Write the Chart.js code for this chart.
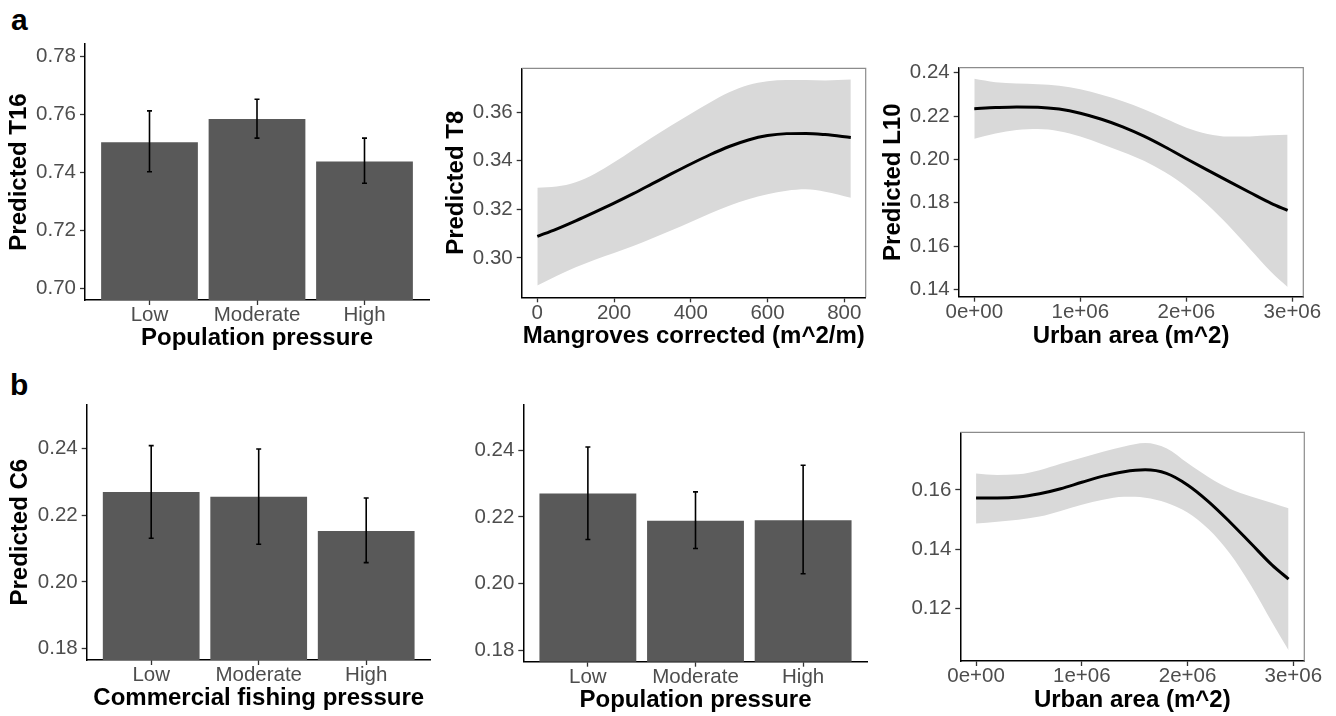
<!DOCTYPE html>
<html>
<head>
<meta charset="utf-8">
<script src="https://cdn.jsdelivr.net/npm/chart.js@4.4.0/dist/chart.umd.min.js"></script>
<style>
  html, body { margin: 0; padding: 0; background: #fff; }
  #wrap { position: relative; width: 1336px; height: 716px; overflow: hidden; }
  canvas { position: absolute; }
  .tag { position: absolute; font: bold 30px "Liberation Sans", Arial, sans-serif; line-height: 30px; color: #000; }
</style>
</head>
<body>
<div id="wrap">
  <div class="tag" style="left:11px;top:5px">a</div>
  <div class="tag" style="left:10px;top:370px">b</div>
  <canvas id="c1" width="440" height="358" style="left:0;top:0"></canvas>
  <canvas id="c2" width="440" height="358" style="left:440px;top:0"></canvas>
  <canvas id="c3" width="456" height="358" style="left:880px;top:0"></canvas>
  <canvas id="c4" width="440" height="358" style="left:0;top:358px"></canvas>
  <canvas id="c5" width="440" height="358" style="left:440px;top:358px"></canvas>
  <canvas id="c6" width="456" height="358" style="left:880px;top:358px"></canvas>
</div>
<script>
// categories
const pressureLevels = ['Low', 'Moderate', 'High'];

// a, left: T16 by population pressure
const t16Mean  = [0.7505, 0.7585, 0.7438];
const t16Lower = [0.7403, 0.7519, 0.7363];
const t16Upper = [0.7613, 0.7653, 0.7519];
const t16Ticks = [0.70, 0.72, 0.74, 0.76, 0.78];

// a, middle: T8 against mangroves
const mangroveX = [0, 50, 100, 150, 200, 250, 300, 350, 400, 450, 500, 550, 600, 650, 700, 750, 817];
const t8Fit   = [0.3089, 0.3119, 0.3153, 0.3189, 0.3226, 0.3265, 0.3306, 0.3347, 0.3387, 0.3425, 0.3459, 0.3486, 0.3504, 0.3512, 0.3513, 0.3508, 0.3496];
const t8Upper = [0.3289, 0.3294, 0.3312, 0.3347, 0.3394, 0.3446, 0.3497, 0.3546, 0.3594, 0.3640, 0.3682, 0.3712, 0.3728, 0.3733, 0.3733, 0.3731, 0.3735];
const t8Lower = [0.2887, 0.2926, 0.2962, 0.2993, 0.3020, 0.3049, 0.3081, 0.3114, 0.3148, 0.3183, 0.3215, 0.3242, 0.3262, 0.3277, 0.3283, 0.3273, 0.3248];
const mangroveTicks = [0, 200, 400, 600, 800];
const t8Ticks = [0.30, 0.32, 0.34, 0.36];

// a, right: L10 against urban area
const urbanX = [0, 0.2e6, 0.4e6, 0.6e6, 0.8e6, 1.0e6, 1.2e6, 1.4e6, 1.6e6, 1.8e6, 2.0e6, 2.2e6, 2.4e6, 2.6e6, 2.8e6, 2.955e6];
const l10Fit   = [0.2234, 0.2239, 0.2242, 0.2241, 0.2232, 0.2213, 0.2185, 0.2150, 0.2107, 0.2057, 0.2003, 0.1950, 0.1898, 0.1847, 0.1797, 0.1764];
const l10Upper = [0.2372, 0.2356, 0.2350, 0.2347, 0.2340, 0.2323, 0.2298, 0.2268, 0.2231, 0.2188, 0.2146, 0.2117, 0.2105, 0.2106, 0.2111, 0.2114];
const l10Lower = [0.2095, 0.2119, 0.2136, 0.2140, 0.2130, 0.2106, 0.2071, 0.2034, 0.1993, 0.1940, 0.1873, 0.1790, 0.1693, 0.1586, 0.1480, 0.1411];
const urbanTicks = [0, 1e6, 2e6, 3e6];
const urbanTickLabels = ['0e+00', '1e+06', '2e+06', '3e+06'];
const l10Ticks = [0.14, 0.16, 0.18, 0.20, 0.22, 0.24];

// b, left: C6 by commercial fishing pressure
const c6FishMean  = [0.2270, 0.2256, 0.2153];
const c6FishLower = [0.2131, 0.2113, 0.2058];
const c6FishUpper = [0.2409, 0.2399, 0.2252];

// b, middle: C6 by population pressure
const c6PopMean  = [0.2270, 0.2188, 0.2190];
const c6PopLower = [0.2132, 0.2105, 0.2029];
const c6PopUpper = [0.2410, 0.2275, 0.2355];
const c6Ticks = [0.18, 0.20, 0.22, 0.24];

// b, right: C6 against urban area
const c6UrbanFit   = [0.1573, 0.1573, 0.1576, 0.1587, 0.1604, 0.1626, 0.1647, 0.1662, 0.1668, 0.1656, 0.1617, 0.1560, 0.1492, 0.1419, 0.1346, 0.1299];
const c6UrbanUpper = [0.1656, 0.1651, 0.1653, 0.1667, 0.1689, 0.1709, 0.1729, 0.1747, 0.1759, 0.1741, 0.1691, 0.1643, 0.1604, 0.1578, 0.1556, 0.1538];
const c6UrbanLower = [0.1487, 0.1493, 0.1499, 0.1510, 0.1529, 0.1550, 0.1567, 0.1577, 0.1574, 0.1557, 0.1524, 0.1467, 0.1385, 0.1277, 0.1152, 0.1058];
const c6UrbanTicks = [0.12, 0.14, 0.16];

const FONT = '"Liberation Sans", Arial, Helvetica, sans-serif';
Chart.defaults.font.family = FONT;
Chart.defaults.animation = false;

const tickFont = { family: FONT, size: 20.5, lineHeight: 1 };
const titleFont = { family: FONT, size: 24, weight: 'bold', lineHeight: 1 };

function axis(o) {
    const labels = o.labels || o.ticks.map(v => o.isX ? String(v) : v.toFixed(2));
    return {
        type: 'linear',
        min: o.min,
        max: o.max,
        offset: false,
        afterBuildTicks: a => { a.ticks = o.ticks.map(v => ({ value: v })); },
        afterFit: a => { if (o.isX) a.height = o.size; else a.width = o.size; },
        ticks: {
            font: tickFont,
            color: '#4d4d4d',
            padding: o.isX ? 0.5 : 4,
            autoSkip: false,
            maxRotation: 0,
            callback: (v, i) => labels[i]
        },
        grid: {
            display: true, drawOnChartArea: false, drawTicks: true, offset: false,
            tickLength: 5, tickColor: '#333', tickWidth: 1.3
        },
        border: { display: true, color: '#000', width: 1.5 },
        title: {
            display: !!o.title,
            text: o.title,
            font: titleFont,
            color: '#000',
            padding: o.isX ? { top: 0, bottom: o.titlePad } : { top: o.titlePad, bottom: 0 }
        }
    };
}

function errorBars(lower, upper) {
    return {
        id: 'errorBars',
        afterDatasetsDraw(chart) {
            const { ctx, scales: { x, y } } = chart;
            ctx.save();
            ctx.strokeStyle = '#000';
            ctx.lineWidth = 1.6;
            lower.forEach((lo, i) => {
                const px = x.getPixelForValue(i + 1);
                const y1 = y.getPixelForValue(lo);
                const y2 = y.getPixelForValue(upper[i]);
                ctx.beginPath();
                ctx.moveTo(px, y1); ctx.lineTo(px, y2);
                ctx.moveTo(px - 2.5, y1); ctx.lineTo(px + 2.5, y1);
                ctx.moveTo(px - 2.5, y2); ctx.lineTo(px + 2.5, y2);
                ctx.stroke();
            });
            ctx.restore();
        }
    };
}

// grey top/right edges of the panel box
const frame = {
    id: 'frame',
    afterDraw(chart) {
        const { ctx, chartArea: a } = chart;
        ctx.save();
        ctx.strokeStyle = '#8c8c8c';
        ctx.lineWidth = 1.2;
        ctx.beginPath();
        ctx.moveTo(a.left, a.top);
        ctx.lineTo(a.right, a.top);
        ctx.lineTo(a.right, a.bottom);
        ctx.stroke();
        ctx.restore();
    }
};

function barPanel(id, p) {
    new Chart(document.getElementById(id), {
        type: 'bar',
        data: {
            datasets: [{
                data: p.mean.map((v, i) => ({ x: i + 1, y: v })),
                backgroundColor: '#595959',
                borderWidth: 0,
                barPercentage: 0.9,
                categoryPercentage: 1.0
            }]
        },
        options: {
            responsive: false,
            layout: { padding: { left: 0, top: p.top, right: p.right, bottom: 0 } },
            plugins: { legend: { display: false }, tooltip: { enabled: false } },
            scales: {
                x: axis({ isX: true, min: 0.4, max: 3.6, ticks: [1, 2, 3], labels: pressureLevels,
                          size: p.xSize, title: p.xTitle, titlePad: p.xPad }),
                y: axis({ min: p.yMin, max: p.yMax, ticks: p.yTicks,
                          size: p.ySize, title: p.yTitle, titlePad: p.yPad })
            }
        },
        plugins: [errorBars(p.lower, p.upper)]
    });
}

function curvePanel(id, p) {
    const pts = ys => p.x.map((x, i) => ({ x: x, y: ys[i] }));
    new Chart(document.getElementById(id), {
        type: 'line',
        data: {
            datasets: [
                { data: pts(p.fit), borderColor: '#000', borderWidth: 3, pointRadius: 0,
                  fill: false, cubicInterpolationMode: 'monotone' },
                { data: pts(p.upper), borderWidth: 0, pointRadius: 0, fill: '+1',
                  backgroundColor: '#d9d9d9', borderColor: 'rgba(0,0,0,0)', cubicInterpolationMode: 'monotone' },
                { data: pts(p.lower), borderWidth: 0, pointRadius: 0, fill: false,
                  borderColor: 'rgba(0,0,0,0)', cubicInterpolationMode: 'monotone' }
            ]
        },
        options: {
            responsive: false,
            layout: { padding: { left: 0, top: p.top, right: p.right, bottom: 0 } },
            plugins: { legend: { display: false }, tooltip: { enabled: false } },
            scales: {
                x: axis({ isX: true, min: p.xMin, max: p.xMax, ticks: p.xTicks, labels: p.xLabels,
                          size: p.xSize, title: p.xTitle, titlePad: p.xPad }),
                y: axis({ min: p.yMin, max: p.yMax, ticks: p.yTicks,
                          size: p.ySize, title: p.yTitle, titlePad: p.yPad })
            }
        },
        plugins: [frame]
    });
}

barPanel('c1', {
    mean: t16Mean, lower: t16Lower, upper: t16Upper,
    yMin: 0.696, yMax: 0.7844, yTicks: t16Ticks,
    top: 44, right: 11, ySize: 85, xSize: 58,
    yTitle: 'Predicted T16', yPad: 7.7, xTitle: 'Population pressure', xPad: 7.6
});

curvePanel('c2', {
    x: mangroveX, fit: t8Fit, upper: t8Upper, lower: t8Lower,
    xMin: -40.7, xMax: 855.8, xTicks: mangroveTicks,
    yMin: 0.2838, yMax: 0.3781, yTicks: t8Ticks,
    top: 68.3, right: 14.3, ySize: 81.7, xSize: 60.7,
    yTitle: 'Predicted T8', yPad: 4.7, xTitle: 'Mangroves corrected (m^2/m)', xPad: 9.3
});

curvePanel('c3', {
    x: urbanX, fit: l10Fit, upper: l10Upper, lower: l10Lower,
    xMin: -0.147e6, xMax: 3.103e6, xTicks: urbanTicks, xLabels: urbanTickLabels,
    yMin: 0.1366, yMax: 0.2423, yTicks: l10Ticks,
    top: 67.7, right: 32.7, ySize: 78.7, xSize: 61.3,
    yTitle: 'Predicted L10', yPad: 1.4, xTitle: 'Urban area (m^2)', xPad: 9.3
});

barPanel('c4', {
    mean: c6FishMean, lower: c6FishLower, upper: c6FishUpper,
    yMin: 0.1766, yMax: 0.2533, yTicks: c6Ticks,
    top: 46.3, right: 9.3, ySize: 86.7, xSize: 56,
    yTitle: 'Predicted C6', yPad: 8, xTitle: 'Commercial fishing pressure', xPad: 5.5
});

barPanel('c5', {
    mean: c6PopMean, lower: c6PopLower, upper: c6PopUpper,
    yMin: 0.1765, yMax: 0.2536, yTicks: c6Ticks,
    top: 47, right: 12.3, ySize: 83.3, xSize: 54.3,
    yTitle: '', yPad: 0, xTitle: 'Population pressure', xPad: 4
});

curvePanel('c6', {
    x: urbanX, fit: c6UrbanFit, upper: c6UrbanUpper, lower: c6UrbanLower,
    xMin: -0.149e6, xMax: 3.104e6, xTicks: urbanTicks, xLabels: urbanTickLabels,
    yMin: 0.1022, yMax: 0.1795, yTicks: c6UrbanTicks,
    top: 74.3, right: 31.7, ySize: 80.3, xSize: 55,
    yTitle: '', yPad: 0, xTitle: 'Urban area (m^2)', xPad: 4
});
</script>
</body>
</html>
